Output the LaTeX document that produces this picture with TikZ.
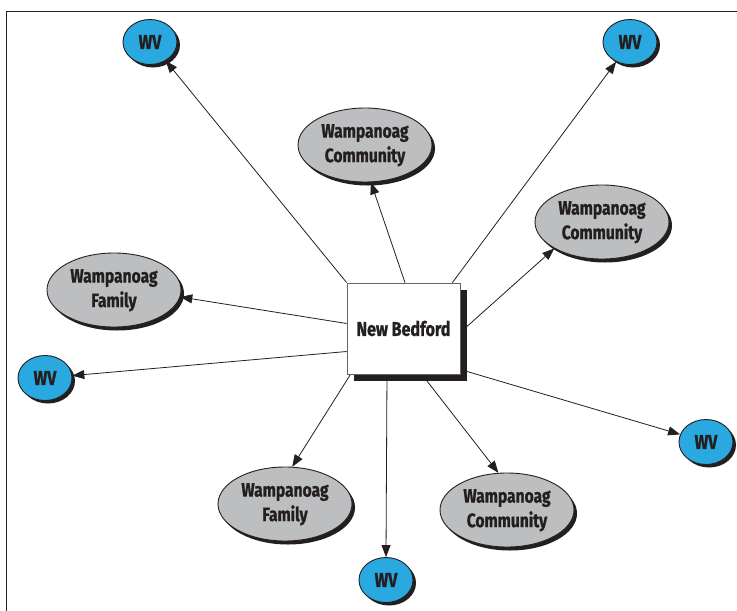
\documentclass[tikz,border=0pt]{standalone}
\usepackage{fontspec}
\newfontfamily\lblfont{Fira Sans}[FakeStretch=0.8,BoldFeatures={FakeBold=0.9}]
\usetikzlibrary{shapes.geometric,shadows,arrows.meta,backgrounds}
\definecolor{wvblue}{HTML}{29A9E0}
\definecolor{ovgray}{HTML}{BDBEC0}
\definecolor{ink}{HTML}{231F20}
\newcommand{\twoline}[2]{\raisebox{-2.5pt}{\begin{tabular}{@{}c@{}}#1\\#2\end{tabular}}}
\tikzset{
  wv/.style={ellipse,draw=ink,line width=0.9pt,fill=wvblue,inner sep=0pt,
    minimum width=54,minimum height=45,text=ink,
    font=\lblfont\bfseries\fontsize{20}{22}\selectfont,
    drop shadow={shadow xshift=3pt,shadow yshift=-3pt,opacity=1,fill=ink}},
  grp/.style={ellipse,draw=ink,line width=0.9pt,fill=ovgray,inner sep=0pt,
    minimum width=134,minimum height=74,text=ink,
    font=\lblfont\bfseries\fontsize{19.5}{24.5}\selectfont,
    drop shadow={shadow xshift=3pt,shadow yshift=-3.5pt,opacity=1,fill=ink}},
  hub/.style={rectangle,draw=ink!70,line width=0.8pt,fill=white,inner sep=0pt,
    minimum width=113,minimum height=91,text=ink,
    font=\lblfont\bfseries\fontsize{20}{24}\selectfont,
    drop shadow={shadow xshift=6.5pt,shadow yshift=-6.5pt,opacity=1,fill=ink}},
  link/.style={draw=ink,line width=0.8pt,-{Triangle[length=12pt,width=9pt]}},
  frame/.style={draw=ink,line width=1.1pt}
}
\begin{document}
\begin{tikzpicture}[x=1pt,y=-1pt]
\useasboundingbox (0,0) rectangle (737,611);

\node[wv] (wv1) at (150,42) {WV};
\node[wv] (wv2) at (630,42) {WV};
\node[wv] (wv3) at (45,378) {WV};
\node[wv] (wv4) at (706,442) {WV};
\node[wv] (wv5) at (386,580) {WV};

\node[grp] (comm1) at (365,145) {\twoline{Wampanoag}{Community}};
\node[grp] (comm2) at (602,222) {\twoline{Wampanoag}{Community}};
\node[grp] (fam1) at (114,290) {\twoline{Wampanoag}{Family}};
\node[grp] (fam2) at (285,504) {\twoline{Wampanoag}{Family}};
\node[grp] (comm3) at (507,510) {\twoline{Wampanoag}{Community}};

\node[hub] (nb) at (403.5,328.5) {New Bedford};

\begin{pgfonlayer}{background}
\fill[white] (0,0) rectangle (737,611);
\draw[frame] (6.8,611) -- (6.8,11.6) -- (737,11.6);
\coordinate (s1) at (nb.north west);
\coordinate (s2) at ([xshift=1.5pt]nb.north);
\coordinate (s3) at ([xshift=-8pt]nb.north east);
\coordinate (s4) at (463,330);
\coordinate (s5) at ([yshift=5pt]nb.west);
\coordinate (s6) at ([yshift=-23pt]nb.west);
\coordinate (s7) at (462,370);
\coordinate (s8) at (352,372);
\coordinate (s9) at (387,372);
\coordinate (s10) at (420,372);
\draw[link] (s1) -- (wv1.310);
\draw[link] (s2) -- (comm1.279);
\draw[link] (s3) -- (wv2.235);
\draw[link] (s4) -- (comm2.209);
\draw[link] (s5) -- (fam1.354);
\draw[link] (s6) -- (wv3);
\draw[link] (s7) -- (wv4);
\draw[link] (s8) -- (fam2.79);
\draw[link] (s9) -- (wv5.north);
\draw[link] (s10) -- (comm3.103);
\end{pgfonlayer}
\end{tikzpicture}
\end{document}
